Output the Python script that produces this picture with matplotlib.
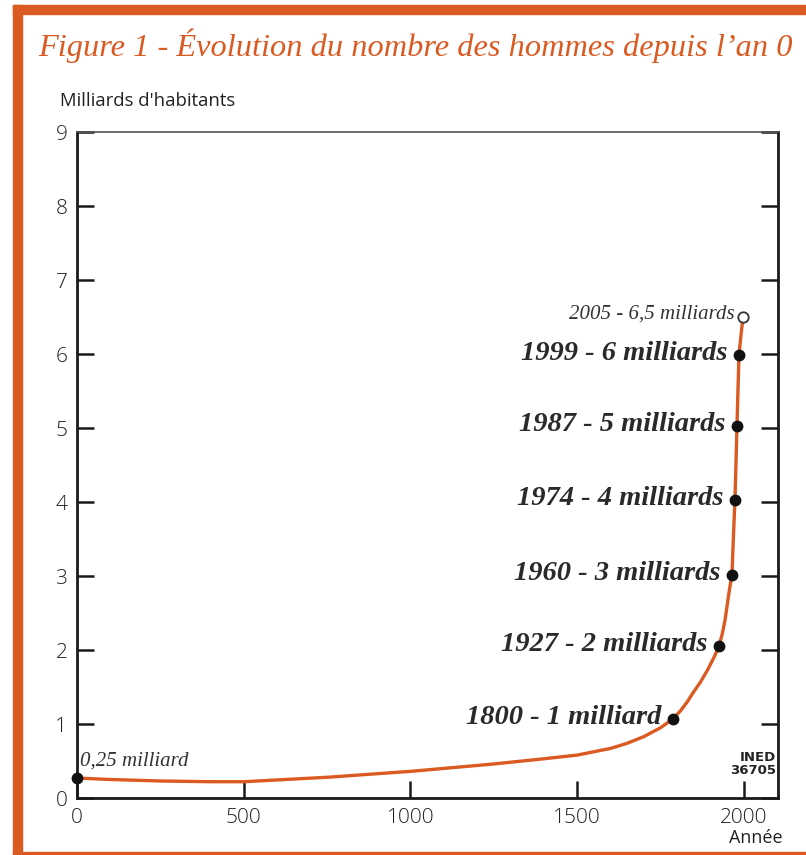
import matplotlib
matplotlib.use("Agg")
import matplotlib.pyplot as plt
from matplotlib.patches import Rectangle

# ---- data ----
curve_years = [0, 100, 250, 400, 500, 750, 1000, 1250, 1400, 1500, 1600, 1650, 1700, 1750,
               1787, 1810, 1830, 1847, 1870, 1892, 1910, 1925, 1935, 1943, 1952, 1958,
               1964, 1968, 1973, 1979, 1985, 1991, 1997]
curve_values = [0.27, 0.25, 0.23, 0.22, 0.22, 0.28, 0.36, 0.46, 0.53, 0.58, 0.67, 0.74, 0.83, 0.95,
                1.07, 1.18, 1.30, 1.42, 1.57, 1.74, 1.90, 2.05, 2.22, 2.40, 2.68, 2.86,
                3.01, 3.50, 4.03, 5.03, 5.99, 6.25, 6.5]

milestone_x = [1787, 1925, 1964, 1973, 1979, 1985]
milestone_y = [1.07, 2.05, 3.01, 4.03, 5.03, 5.99]
milestone_labels = ["1800 - 1 milliard", "1927 - 2 milliards", "1960 - 3 milliards",
                    "1974 - 4 milliards", "1987 - 5 milliards", "1999 - 6 milliards"]

start_x, start_y, start_label = 0, 0.27, "0,25 milliard"
proj_x, proj_y, proj_label = 1997, 6.5, "2005 - 6,5 milliards"

x_ticks = [0, 500, 1000, 1500, 2000]
y_ticks = [0, 1, 2, 3, 4, 5, 6, 7, 8, 9]

title = "Figure 1 - Évolution du nombre des hommes depuis l\u2019an 0"
ylabel = "Milliards d'habitants"
xlabel = "Année"
source = "INED\n36705"

ORANGE = "#DA5A22"
W, H = 806, 855
fig = plt.figure(figsize=(W / 100, H / 100), dpi=100)
fig.patch.set_facecolor("white")

# frame
fig.patches.append(Rectangle((13 / W, 0), 9 / W, 1 - 5 / H, transform=fig.transFigure,
                             color=ORANGE, zorder=0))
fig.patches.append(Rectangle((13 / W, 1 - 14 / H), 1, 9 / H, transform=fig.transFigure,
                             color=ORANGE, zorder=0))
fig.patches.append(Rectangle((13 / W, 0), 1, 3 / H, transform=fig.transFigure,
                             color=ORANGE, zorder=0))

fig.text(38 / W, 1 - 46 / H, title, color=ORANGE, fontsize=23.3, style="italic",
         family="Liberation Serif", va="center", ha="left")

left, right, top, bottom = 77, 778, 132, 798
ax = fig.add_axes([left / W, 1 - bottom / H, (right - left) / W, (bottom - top) / H])
ax.set_xlim(0, 2102)
ax.set_ylim(0, 9)

for s in ["left", "bottom", "right"]:
    ax.spines[s].set_linewidth(2)
    ax.spines[s].set_color("#1a1a1a")
ax.spines["top"].set_linewidth(1.2)
ax.spines["top"].set_color("#555555")

ax.set_xticks(x_ticks)
ax.set_yticks(y_ticks)
ax.tick_params(axis="both", direction="in", length=12, width=1.8, color="#1a1a1a",
               labelsize=15, labelcolor="#222222")
ax.tick_params(axis="y", right=True, pad=7)
ax.tick_params(axis="x", pad=7)
for lab in ax.get_xticklabels() + ax.get_yticklabels():
    lab.set_family("Open Sans")
    lab.set_fontweight("light")

ax.plot(curve_years, curve_values, color=ORANGE, lw=2.4, zorder=2,
        solid_capstyle="round", solid_joinstyle="round")
ax.plot(milestone_x, milestone_y, "o", color="#111111", ms=7.5, zorder=3)
ax.plot([start_x], [start_y], "o", color="#111111", ms=7.5, zorder=3, clip_on=False)
ax.plot([proj_x], [proj_y], "o", mfc="white", mec="#333333", mew=1.3, ms=7.5, zorder=3)

for x, y, lab in zip(milestone_x, milestone_y, milestone_labels):
    ax.annotate(lab, (x, y), xytext=(-8, 1), textcoords="offset points",
                ha="right", va="center", fontsize=20.5, fontweight="bold", style="italic",
                family="Liberation Serif", color="#2a2a2a")

ax.annotate(proj_label, (proj_x, proj_y), xytext=(-6, 2), textcoords="offset points",
            ha="right", va="center", fontsize=15, style="italic",
            family="Liberation Serif", color="#333333")
ax.annotate(start_label, (start_x, start_y), xytext=(2, 12), textcoords="offset points",
            ha="left", va="center", fontsize=15, style="italic",
            family="Liberation Serif", color="#333333")

fig.text(60 / W, 1 - 101 / H, ylabel, fontsize=13.3, family="Open Sans",
         color="#222222", va="center", ha="left")
fig.text(783 / W, 1 - 838 / H, xlabel, fontsize=13, family="Open Sans",
         color="#222222", va="center", ha="right")
fig.text(776 / W, 1 - 764 / H, source, fontsize=9.5, family="Liberation Sans Narrow",
         fontweight="bold", color="#222222", va="center", ha="right", linespacing=1.0)

fig.savefig("out.png", dpi=100)
